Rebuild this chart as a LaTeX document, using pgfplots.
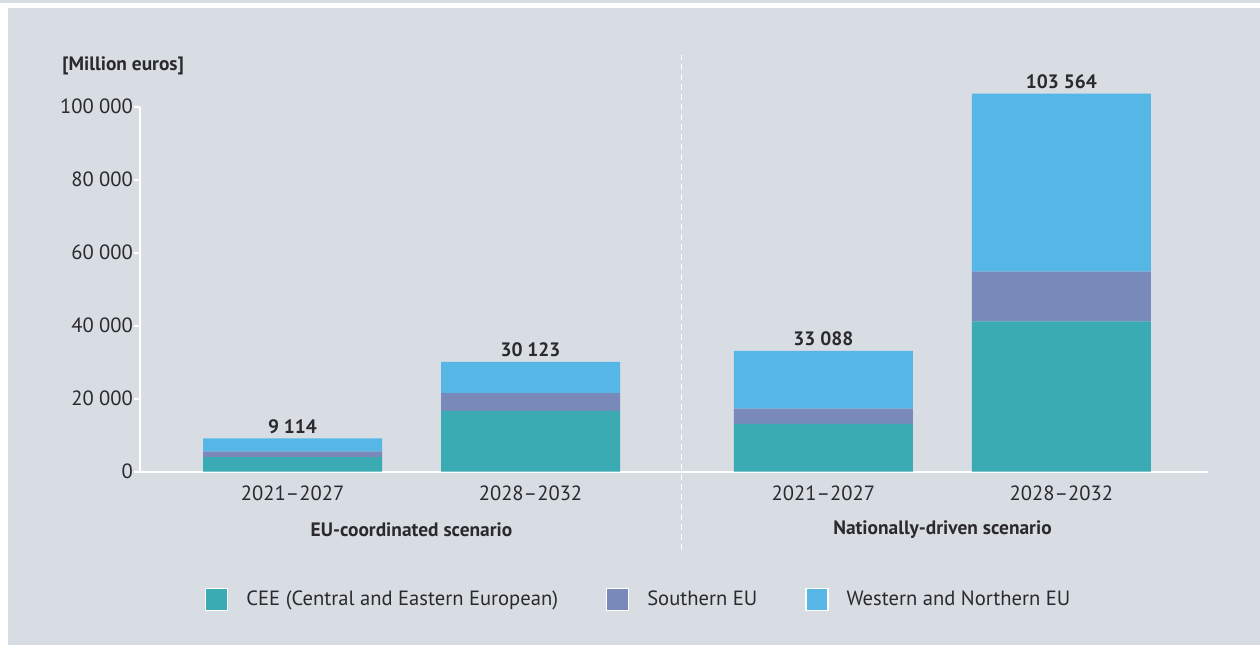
\documentclass[border=0pt]{standalone}
\usepackage{pgfplots}
\pgfplotsset{compat=1.18}
\usepackage{fontspec}
\setmainfont{PT Sans}
\definecolor{panel}{HTML}{D8DCE3}
\definecolor{cee}{HTML}{3AAAB3}
\definecolor{south}{HTML}{7889BA}
\definecolor{west}{HTML}{56B6E6}
\definecolor{txt}{HTML}{2A2A2E}
\pgfplotsset{
  base/.style={scale only axis, width=534pt, height=182.5pt,
    at={(70pt,86.65pt)}, anchor=south west,
    xmin=-0.641, xmax=3.847, ymin=0, ymax=100000, clip=false}
}
\begin{document}
\begin{tikzpicture}[x=1pt,y=1pt]
\fill[white] (0,0) rectangle (630,322.5);
\fill[panel] (0,321.2) rectangle (630,322.5);
\fill[panel] (4,0) rectangle (630,318.5);
\draw[white, line width=0.5pt, dash pattern=on 3pt off 2pt] (340.5,47.5) -- (340.5,295);
\node[anchor=west, font=\bfseries\fontsize{9.7}{11}\selectfont, text=txt, inner sep=0pt] at (31,289.5) {[Million euros]};
\begin{axis}[
  base,
  axis x line*=bottom, axis y line*=left,
  axis line style={white, line width=1pt},
  ybar stacked, bar width=89.5pt,
  scaled y ticks=false,
  xtick={0,1,2.231,3.231},
  xticklabels={2021--2027,2028--2032,2021--2027,2028--2032},
  x tick style={draw=none},
  ytick={0,20000,40000,60000,80000,100000},
  yticklabels={0,20 000,40 000,60 000,80 000,100 000},
  y tick style={white, line width=0.8pt},
  tick align=outside, major tick length=3pt,
  tick label style={font=\fontsize{10.3}{12}\selectfont, text=txt},
  yticklabel style={xshift=3pt},
  xticklabel style={yshift=-0.5pt},
  legend style={at={(0.4680,-0.35)}, anchor=center, draw=none, fill=none,
    legend columns=3, font=\fontsize{10.3}{12}\selectfont, text=txt,
    /tikz/every odd column/.append style={column sep=7pt},
    /tikz/every even column/.append style={column sep=22pt},
    cells={anchor=west}},
  legend image code/.code={\draw[#1,draw=white,line width=0.6pt] (0pt,-5.5pt) rectangle (11pt,5.5pt);},
]
\addplot+[fill=cee, draw=none] coordinates {(0,4000) (1,16700) (2.231,13100) (3.231,41200)};
\addlegendentry{CEE (Central and Eastern European)}
\addplot+[fill=south, draw=none] coordinates {(0,1500) (1,4800) (2.231,4200) (3.231,13600)};
\addlegendentry{Southern EU}
\addplot+[fill=west, draw=none] coordinates {(0,3614) (1,8623) (2.231,15788) (3.231,48764)};
\addlegendentry{Western and Northern EU}
\end{axis}
\begin{axis}[base, hide axis]
\addplot[draw=none, mark=none, nodes near coords, point meta=explicit symbolic,
  every node near coord/.append style={anchor=south, yshift=-1pt, font=\bfseries\fontsize{9.7}{11}\selectfont, text=txt}]
  coordinates {(0,9114) [9 114] (1,30123) [30 123] (2.231,33088) [33 088] (3.231,103564) [103 564]};
\end{axis}
\node[font=\bfseries\fontsize{9.7}{11}\selectfont, text=txt] at (205.75,57.8) {EU-coordinated scenario};
\node[font=\bfseries\fontsize{9.7}{11}\selectfont, text=txt] at (471.25,57.8) {Nationally-driven scenario};
\pgfresetboundingbox
\path (0,0) rectangle (630,322.5);
\end{tikzpicture}
\end{document}
